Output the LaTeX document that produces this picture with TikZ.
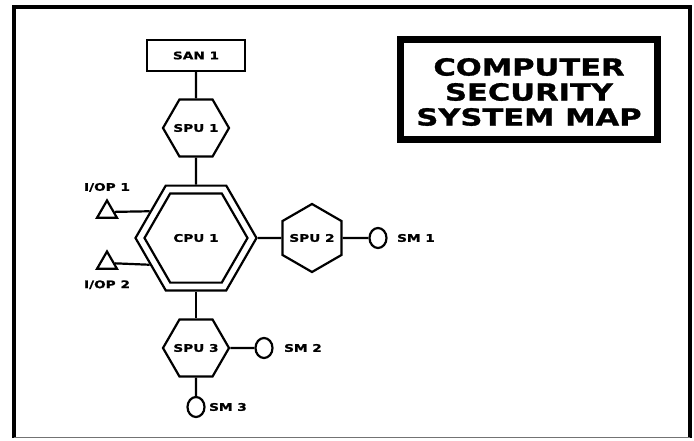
\documentclass[tikz,border=0pt]{standalone}
\usepackage{fontspec}
\newfontfamily\mapfont[FakeStretch=1.3,FakeBold=1.2]{DejaVu Sans}
\usetikzlibrary{shapes.geometric,positioning}

\begin{document}
\begin{tikzpicture}[x=1pt,y=-1pt,font=\mapfont\bfseries\fontsize{10.5}{12}\selectfont,
  hexa/.style={draw,regular polygon,regular polygon sides=6,line width=2.2pt,inner sep=-8pt,minimum size=66pt},
  sensor/.style={draw,ellipse,line width=2.2pt,minimum width=17pt,minimum height=20pt,inner sep=0pt},
  iop/.style={draw,regular polygon,regular polygon sides=3,line width=2.2pt,minimum size=23pt,inner sep=0pt},
  link/.style={line width=2.2pt}]
\useasboundingbox (0,0) rectangle (694,440);
% frame
\draw[line width=4pt] (14,438) -- (14,6.5) -- (689.5,6.5) -- (689.5,438);
\draw[line width=0.8pt,black!55] (14,437) -- (689.5,437);
% title
\node[draw,line width=7pt,minimum width=257pt,minimum height=100pt] (title) at (529,89) {};
\node[align=center,font=\mapfont\bfseries\fontsize{23.5}{25}\selectfont] (titletxt) at (529,92) {COMPUTER\\SECURITY\\SYSTEM MAP};
% units
\node[draw,line width=1.6pt,minimum width=98pt,minimum height=31pt] (san1) at (196,55.5) {SAN 1};
\node[hexa] (spu1) at (196,128) {SPU 1};
\node[hexa,minimum size=121pt] (cpu) at (196,238) {};
\node[hexa,minimum size=103pt] (cpu1) at (cpu) {CPU 1};
\node[hexa,shape border rotate=90,minimum size=68pt] (spu2) at (312,238) {SPU 2};
\node[hexa] (spu3) at (196,348) {SPU 3};
\node[sensor] (sm1) at (378,238) {};
\node[sensor] (sm2) at (264,348) {};
\node[sensor] (sm3) at (196,407) {};
\node[right=6pt of sm1] (sm1txt) {SM 1};
\node[right=7pt of sm2] (sm2txt) {SM 2};
\node[right=0pt of sm3] (sm3txt) {SM 3};
\node[iop] (iop1) at (107,212) {};
\node[iop] (iop2) at (107,263) {};
\node[above=3pt of iop1] (iop1txt) {I/OP 1};
\node[below=7pt of iop2] (iop2txt) {I/OP 2};
% links
\draw[link] (san1) -- (spu1);
\draw[link] (spu1) -- (cpu);
\draw[link] (cpu) -- (spu2);
\draw[link] (spu2) -- (sm1);
\draw[link] (cpu) -- (spu3);
\draw[link] (spu3) -- (sm2);
\draw[link] (spu3) -- (sm3);
\draw[link] (iop1) -- (cpu.150);
\draw[link] (iop2) -- (cpu.210);
\end{tikzpicture}
\end{document}
